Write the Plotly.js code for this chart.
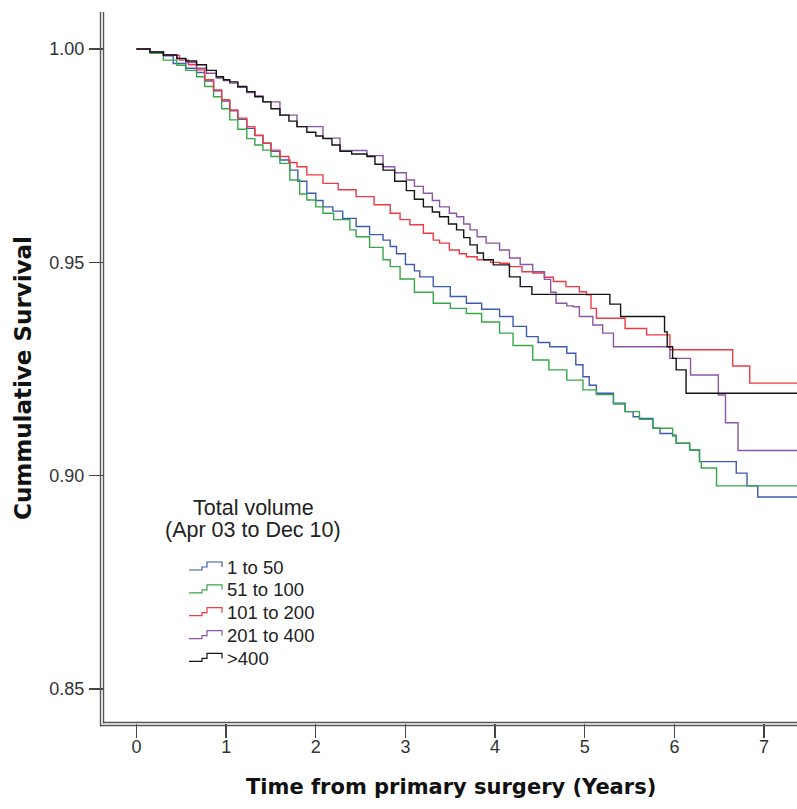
<!DOCTYPE html>
<html>
<head>
<meta charset="utf-8">
<script src="https://cdn.plot.ly/plotly-3.0.1.min.js"></script>
<style>
  html, body { margin: 0; padding: 0; background: #ffffff; }
  #chart { width: 797px; height: 809px; }
</style>
</head>
<body>
<div id="chart"></div>
<script>
// Kaplan-Meier survival by hospital total volume (step curves)
const groupNames = ['1 to 50', '51 to 100', '101 to 200', '201 to 400', '>400'];
const groupColors = ['#3d5bb0', '#37a84a', '#ee3b45', '#8b56a3', '#151515'];

const timeBlue = [0, 0.15, 0.30, 0.41, 0.55, 0.67, 0.76, 0.86, 0.95, 1.04, 1.13, 1.23, 1.32, 1.41, 1.50, 1.60, 1.71, 1.80, 1.90, 2.00, 2.08, 2.19, 2.30, 2.45, 2.60, 2.75, 2.83, 2.90, 3.00, 3.10, 3.16, 3.31, 3.50, 3.68, 3.85, 4.05, 4.20, 4.35, 4.48, 4.61, 4.80, 4.90, 4.98, 5.05, 5.13, 5.32, 5.45, 5.54, 5.61, 5.76, 5.84, 5.98, 6.02, 6.17, 6.28, 6.69, 6.81, 6.93, 7.60];
const survBlue = [1.000, 0.9992, 0.9984, 0.9966, 0.9955, 0.9945, 0.9925, 0.9902, 0.9878, 0.9855, 0.9835, 0.9814, 0.9797, 0.9779, 0.9760, 0.9740, 0.9716, 0.9690, 0.9662, 0.9645, 0.9630, 0.9620, 0.9603, 0.9584, 0.9565, 0.9552, 0.9537, 0.9520, 0.9495, 0.9480, 0.9466, 0.9443, 0.9420, 0.9404, 0.9390, 0.9373, 0.9350, 0.9326, 0.9312, 0.9302, 0.9287, 0.9260, 0.9232, 0.9212, 0.9193, 0.9170, 0.9150, 0.9138, 0.9134, 0.9111, 0.9099, 0.9095, 0.9076, 0.9060, 0.9033, 0.9006, 0.8976, 0.8950, 0.8950];

const timeGreen = [0, 0.15, 0.30, 0.45, 0.55, 0.67, 0.76, 0.86, 0.95, 1.04, 1.13, 1.23, 1.32, 1.41, 1.50, 1.60, 1.71, 1.82, 1.90, 2.00, 2.08, 2.20, 2.38, 2.45, 2.60, 2.75, 2.83, 2.94, 3.10, 3.31, 3.50, 3.68, 3.85, 4.05, 4.20, 4.42, 4.60, 4.80, 4.98, 5.13, 5.32, 5.45, 5.61, 5.76, 5.98, 6.02, 6.17, 6.28, 6.30, 6.47, 7.60];
const survGreen = [1.000, 0.9990, 0.9974, 0.9962, 0.9950, 0.9935, 0.9912, 0.9888, 0.9860, 0.9834, 0.9812, 0.9790, 0.9775, 0.9763, 0.9748, 0.9732, 0.9693, 0.9660, 0.9646, 0.9630, 0.9615, 0.9600, 0.9576, 0.9560, 0.9535, 0.9506, 0.9490, 0.9461, 0.9430, 0.9404, 0.9392, 0.9380, 0.9360, 0.9334, 0.9305, 0.9271, 0.9248, 0.9224, 0.9201, 0.9190, 0.9168, 0.9150, 0.9132, 0.9111, 0.9093, 0.9076, 0.9060, 0.9033, 0.9018, 0.8976, 0.8976];

const timeRed = [0, 0.15, 0.30, 0.48, 0.58, 0.67, 0.76, 0.86, 0.95, 1.04, 1.13, 1.23, 1.32, 1.41, 1.50, 1.60, 1.70, 1.79, 1.90, 2.08, 2.25, 2.45, 2.65, 2.83, 2.94, 3.05, 3.20, 3.31, 3.38, 3.49, 3.60, 3.68, 3.80, 3.95, 4.05, 4.16, 4.30, 4.42, 4.55, 4.65, 4.79, 4.94, 5.02, 5.07, 5.13, 5.45, 5.69, 5.95, 6.65, 6.84, 7.60];
const survRed = [1.000, 0.9993, 0.9985, 0.9974, 0.9963, 0.9951, 0.9928, 0.9904, 0.9881, 0.9857, 0.9838, 0.9818, 0.9798, 0.9779, 0.9763, 0.9748, 0.9734, 0.9724, 0.9705, 0.9685, 0.9670, 0.9654, 0.9635, 0.9615, 0.9600, 0.9588, 0.9568, 0.9552, 0.9545, 0.9529, 0.9520, 0.9513, 0.9506, 0.9500, 0.9498, 0.9490, 0.9478, 0.9475, 0.9465, 0.9455, 0.9443, 0.9431, 0.9424, 0.9392, 0.9369, 0.9345, 0.9330, 0.9295, 0.9257, 0.9217, 0.9217];

const timePurple = [0, 0.15, 0.30, 0.45, 0.55, 0.67, 0.78, 0.89, 0.97, 1.04, 1.13, 1.23, 1.32, 1.41, 1.60, 1.79, 2.08, 2.27, 2.57, 2.75, 2.88, 3.01, 3.10, 3.20, 3.30, 3.38, 3.49, 3.57, 3.65, 3.72, 3.80, 3.90, 4.05, 4.16, 4.28, 4.42, 4.55, 4.62, 4.68, 4.80, 4.87, 4.94, 5.09, 5.20, 5.32, 5.95, 6.18, 6.49, 6.57, 6.71, 7.60];
const survPurple = [1.000, 0.9993, 0.9986, 0.9977, 0.9968, 0.9955, 0.9943, 0.9932, 0.9926, 0.9920, 0.9910, 0.9898, 0.9890, 0.9876, 0.9845, 0.9818, 0.9791, 0.9762, 0.9750, 0.9724, 0.9710, 0.9693, 0.9678, 0.9662, 0.9645, 0.9630, 0.9615, 0.9607, 0.9590, 0.9576, 0.9560, 0.9545, 0.9529, 0.9510, 0.9495, 0.9478, 0.9460, 0.9430, 0.9404, 0.9398, 0.9396, 0.9373, 0.9353, 0.9334, 0.9302, 0.9275, 0.9236, 0.9189, 0.9124, 0.9059, 0.9059];

const timeBlack = [0, 0.15, 0.30, 0.45, 0.55, 0.67, 0.78, 0.89, 0.97, 1.04, 1.13, 1.23, 1.32, 1.41, 1.50, 1.60, 1.70, 1.79, 1.90, 2.00, 2.08, 2.18, 2.27, 2.40, 2.57, 2.66, 2.75, 2.88, 3.01, 3.10, 3.20, 3.30, 3.38, 3.48, 3.57, 3.65, 3.72, 3.80, 3.87, 3.98, 4.16, 4.28, 4.41, 5.28, 5.40, 5.89, 5.92, 5.98, 6.02, 6.13, 7.60];
const survBlack = [1.000, 0.9993, 0.9986, 0.9978, 0.9972, 0.9963, 0.9950, 0.9935, 0.9928, 0.9923, 0.9912, 0.9900, 0.9888, 0.9876, 0.9860, 0.9845, 0.9831, 0.9818, 0.9805, 0.9796, 0.9790, 0.9775, 0.9760, 0.9754, 0.9748, 0.9730, 0.9716, 0.9690, 0.9668, 0.9648, 0.9630, 0.9618, 0.9607, 0.9590, 0.9576, 0.9558, 0.9541, 0.9522, 0.9506, 0.9494, 0.9466, 0.9443, 0.9425, 0.9402, 0.9373, 0.9337, 0.9302, 0.9275, 0.9248, 0.9193, 0.9193];

const xTickVals = [0, 1, 2, 3, 4, 5, 6, 7];
const xTickText = ['0', '1', '2', '3', '4', '5', '6', '7'];
const yTickVals = [0.85, 0.90, 0.95, 1.00];
const yTickText = ['0.85', '0.90', '0.95', '1.00'];

const legendTitleLines = ['Total volume', '(Apr 03 to Dec 10)'];
const xTitle = 'Time from primary surgery (Years)';
const yTitle = 'Cummulative Survival';

// ---- page geometry (pixels) ----
const W = 797, H = 809;
const M = { l: 104, r: 0, t: 12, b: 86 };
const plotW = W - M.l - M.r;
const plotH = H - M.t - M.b;
const px2x = px => (px - M.l) / plotW;          // page px -> paper x
const py2y = py => (H - M.b - py) / plotH;      // page py -> paper y

const seriesTimes = [timeBlue, timeGreen, timeRed, timePurple, timeBlack];
const seriesSurv = [survBlue, survGreen, survRed, survPurple, survBlack];

const traces = groupNames.map((name, i) => ({
  type: 'scatter',
  mode: 'lines',
  name: name,
  x: seriesTimes[i],
  y: seriesSurv[i],
  line: { shape: 'hv', color: groupColors[i], width: 1.4 },
  hoverinfo: 'x+y+name',
  showlegend: false
}));

const axisColor = '#555555';
const shapes = [
  // double axis lines
  { type: 'line', xref: 'paper', yref: 'paper', x0: px2x(103.5), x1: px2x(103.5), y0: py2y(723.5), y1: py2y(12), line: { color: axisColor, width: 1.4 } },
  { type: 'line', xref: 'paper', yref: 'paper', x0: px2x(100.5), x1: px2x(100.5), y0: py2y(726.5), y1: py2y(12), line: { color: axisColor, width: 1.4 } },
  { type: 'line', xref: 'paper', yref: 'paper', x0: px2x(103.5), x1: px2x(800), y0: py2y(722.5), y1: py2y(722.5), line: { color: axisColor, width: 1.4 } },
  { type: 'line', xref: 'paper', yref: 'paper', x0: px2x(100.5), x1: px2x(800), y0: py2y(725.5), y1: py2y(725.5), line: { color: axisColor, width: 1.4 } }
];

const annotations = [];
// legend title
const legendCenterX = 253;
[508, 530].forEach((py, k) => {
  annotations.push({
    xref: 'paper', yref: 'paper', x: px2x(legendCenterX), y: py2y(py),
    xanchor: 'center', yanchor: 'middle', showarrow: false,
    text: legendTitleLines[k],
    font: { family: 'Liberation Sans, Arial, sans-serif', size: 21.5, color: '#222222' }
  });
});
// legend entries: step glyph + label
const itemY0 = 567, itemStep = 22.85;
groupNames.forEach((name, i) => {
  const c = itemY0 + i * itemStep;
  const pts = [[189, c + 3], [202, c + 3], [202, c], [207, c], [207, c - 5], [222, c - 5], [222, c]];
  const path = pts.map((p, j) => (j ? 'L' : 'M') + px2x(p[0]).toFixed(5) + ',' + py2y(p[1]).toFixed(5)).join(' ');
  shapes.push({ type: 'path', xref: 'paper', yref: 'paper', path: path, line: { color: groupColors[i], width: 1.2 } });
  annotations.push({
    xref: 'paper', yref: 'paper', x: px2x(225), y: py2y(c),
    xanchor: 'left', yanchor: 'middle', showarrow: false,
    text: name,
    font: { family: 'Liberation Sans, Arial, sans-serif', size: 18.5, color: '#222222' }
  });
});
// axis titles
annotations.push({
  xref: 'paper', yref: 'paper', x: px2x(451), y: py2y(787),
  xanchor: 'center', yanchor: 'middle', showarrow: false, text: xTitle,
  font: { family: 'DejaVu Sans, Verdana, sans-serif', size: 21, color: '#111111', weight: 'bold' }
});
annotations.push({
  xref: 'paper', yref: 'paper', x: px2x(23), y: py2y(378),
  xanchor: 'center', yanchor: 'middle', showarrow: false, text: yTitle, textangle: -90,
  font: { family: 'DejaVu Sans, Verdana, sans-serif', size: 23, color: '#111111', weight: 'bold' }
});

const tickFont = { family: 'Liberation Sans, Arial, sans-serif', size: 18, color: '#333333' };

const layout = {
  width: W, height: H,
  margin: M,
  paper_bgcolor: '#ffffff',
  plot_bgcolor: '#ffffff',
  showlegend: false,
  xaxis: {
    range: [(M.l - 136.5) / 89.65, (W - 136.5) / 89.65],
    tickmode: 'array', tickvals: xTickVals, ticktext: xTickText,
    ticks: 'outside', ticklen: 14, tickwidth: 1.4, tickcolor: '#444444',
    showgrid: false, zeroline: false, showline: false,
    tickfont: tickFont, ticklabelstandoff: -7, fixedrange: true
  },
  yaxis: {
    range: [1 - (H - M.b - 49) / 4266.7, 1 + (49 - M.t) / 4266.7],
    tickmode: 'array', tickvals: yTickVals, ticktext: yTickText,
    ticks: 'outside', ticklen: 14, tickwidth: 1.4, tickcolor: '#444444',
    showgrid: false, zeroline: false, showline: false,
    tickfont: tickFont, ticklabelstandoff: 1, fixedrange: true
  },
  shapes: shapes,
  annotations: annotations
};

Plotly.newPlot('chart', traces, layout, { displayModeBar: false, staticPlot: true });
</script>
</body>
</html>
